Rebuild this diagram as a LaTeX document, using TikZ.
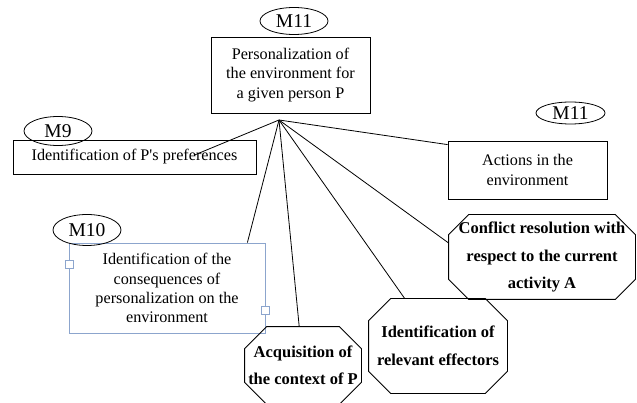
\documentclass[tikz,border=0pt]{standalone}
\usepackage{fontspec}
\setmainfont{Liberation Serif}
\usetikzlibrary{shapes.geometric}

\definecolor{selblue}{RGB}{140,165,205}

\tikzset{
	modbox/.style={draw, rectangle, align=center, inner sep=0pt, font=\fontsize{16.2}{19.2}\selectfont},
	tag/.style={draw, ellipse, inner sep=0pt, font=\fontsize{19.5}{21}\selectfont},
	task/.style={rectangle, align=center, inner sep=0pt, font=\fontsize{16.5}{27.5}\bfseries\selectfont},
	handle/.style={draw=selblue, fill=white, line width=0.6pt, minimum size=8pt, inner sep=0pt}
}

% octogone autour d'un noeud : #1 nom, #2 pan coupe
\newcommand\octo[2]{%
	\draw ([xshift=#2]#1.north west) -- ([xshift=-#2]#1.north east) -- ([yshift=-#2]#1.north east)
		-- ([yshift=#2]#1.south east) -- ([xshift=-#2]#1.south east) -- ([xshift=#2]#1.south west)
		-- ([yshift=#2]#1.south west) -- ([yshift=-#2]#1.north west) -- cycle;}

\begin{document}
\begin{tikzpicture}[x=1pt,y=-1pt,line width=0.8pt]
	\useasboundingbox (0,0) rectangle (637,403);

	% Modules
	\node[modbox, minimum width=159pt, minimum height=76pt] (pers) at (290.5,75) {Personalization of\\the environment for\\a given person P};
	\node[modbox, minimum width=243pt, minimum height=34pt] (pref) at (134.5,157) {Identification of P\textquotesingle s preferences};
	\node[modbox, minimum width=159pt, minimum height=58pt] (act) at (527.5,170) {Actions in the\\environment};
	\node[modbox, draw=selblue, minimum width=196pt, minimum height=90pt] (cons) at (167,288) {Identification of the\\consequences of\\personalization on the\\environment};

	% Etiquettes
	\node[tag, minimum width=68pt, minimum height=27pt] (m11a) at (294,21) {M11};
	\node[tag, minimum width=68pt, minimum height=29pt] (m9) at (58,131) {M9};
	\node[tag, minimum width=69pt, minimum height=22pt] (m11b) at (570.5,113) {M11};
	\node[tag, minimum width=68pt, minimum height=31pt] (m10) at (87,230) {M10};

	% Poignees de selection
	\node[handle] (h1) at (69,264) {};
	\node[handle] (h2) at (265,310) {};

	% Taches
	\node[task, minimum width=116pt, minimum height=77pt] (acq) at (303,365.5) {Acquisition of\\the context of P};
	\node[task, minimum width=138pt, minimum height=94pt] (eff) at (438,346) {Identification of\\relevant effectors};
	\node[task, minimum width=186pt, minimum height=84pt] (conf) at (542,257) {Conflict resolution with\\respect to the current\\activity A};
	\octo{acq}{22pt}
	\octo{eff}{22pt}
	\octo{conf}{20pt}

	% Liens
	\coordinate (hub) at (279,120);
	\draw (hub) -- ([xshift=60pt,yshift=2pt]pref.center);
	\draw (hub) -- ([yshift=-4pt]act.north west);
	\draw (hub) -- ([xshift=-18pt]cons.north east);
	\draw (hub) -- (acq);
	\draw (hub) -- (eff);
	\draw (hub) -- ([yshift=14pt]conf.west);
\end{tikzpicture}
\end{document}
